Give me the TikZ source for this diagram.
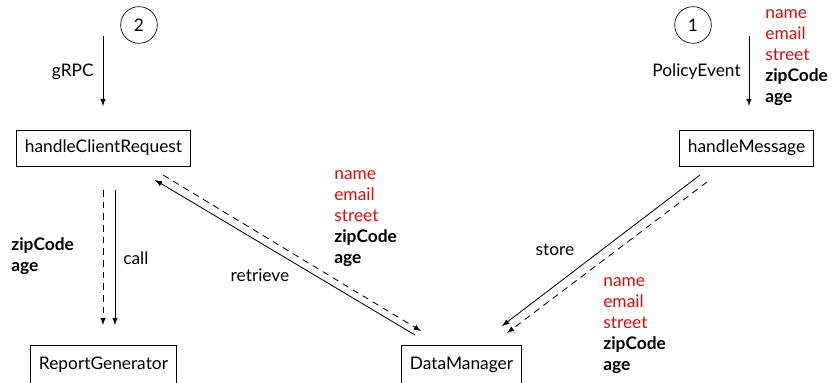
\documentclass[tikz,border=0pt]{standalone}
\usepackage{fontspec}
\setmainfont{Lato}
\usetikzlibrary{arrows}
\definecolor{hidden}{RGB}{222,12,12}
\tikzset{
  box/.style={draw, line width=0.5pt, inner xsep=5.2pt, minimum height=21.6pt, font=\fontsize{10.4}{12}\selectfont},
  tallbox/.style={box, minimum height=24pt},
  num/.style={draw, circle, minimum size=22pt, inner sep=0pt, font=\fontsize{10.4}{12}\selectfont},
  lbl/.style={inner sep=0pt, font=\fontsize{10.4}{12}\selectfont},
  fields/.style={inner sep=0pt, align=left, font=\fontsize{10.4}{12.6}\selectfont},
  flow/.style={-latex, line width=0.5pt},
  reply/.style={-latex, line width=0.5pt, dashed, dash pattern=on 4pt off 3pt},
}
\newcommand{\hid}[1]{\textcolor{hidden}{#1}}
\newcommand{\fieldlist}{\hid{name}\\\hid{email}\\\hid{street}\\\textbf{zipCode}\\\textbf{age}}
\begin{document}
\begin{tikzpicture}[x=0.6pt, y=-0.6pt]
  \useasboundingbox (0,0) rectangle (835,383);
  \clip (0,0) rectangle (835,383);

  % entry points
  \node[num] (c2) at (139,25) {2};
  \node[num] (c1) at (693,25) {1};

  % components
  \node[box] (hcr) at (103.5,148) {handleClientRequest};
  \node[box] (hm)  at (746.5,148) {handleMessage};
  \node[tallbox] (rg)  at (103.5,365) {ReportGenerator};
  \node[tallbox] (dm)  at (461.5,365) {DataManager};

  % incoming requests
  \coordinate (g0) at (103,36);
  \coordinate (p0) at (749,36);
  \coordinate (g1) at (103,106);
  \coordinate (p1) at (749,106);
  \draw[flow] (g0) -- (g1);
  \draw[flow] (p0) -- (p1);
  \node[lbl, anchor=east] (lgrpc) at (94,72) {gRPC};
  \node[lbl, anchor=east] (lpol) at (741,72) {PolicyEvent};
  \node[fields, anchor=west] (f1) at (765,58) {\fieldlist};

  % call to the report generator and its answer
  \coordinate (cs0) at (115,190);
  \coordinate (cs1) at (115,325);
  \coordinate (cd0) at (103,190);
  \coordinate (cd1) at (103,325);
  \draw[flow] (cs0) -- (cs1);
  \draw[reply] (cd0) -- (cd1);
  \node[lbl, anchor=west] (lcall) at (123,258) {call};
  \node[fields, anchor=west] (f2) at (11,256) {\textbf{zipCode}\\\textbf{age}};

  % retrieve from the data manager
  \coordinate (rs0) at (415,335);
  \coordinate (rs1) at (155,180);
  \coordinate (rd0) at (163,175);
  \coordinate (rd1) at (421,331);
  \draw[flow] (rs0) -- (rs1);
  \draw[reply] (rd0) -- (rd1);
  \node[lbl] (lret) at (260,275) {retrieve};
  \node[fields, anchor=west] (f3) at (334,219) {\fieldlist};

  % store into the data manager
  \coordinate (ss0) at (700,175);
  \coordinate (ss1) at (502,326);
  \coordinate (sd0) at (707,182);
  \coordinate (sd1) at (507,333);
  \draw[flow] (ss0) -- (ss1);
  \draw[reply] (sd0) -- (sd1);
  \node[lbl] (lsto) at (555,250) {store};
  \node[fields, anchor=west] (f4) at (603,326) {\fieldlist};
\end{tikzpicture}
\end{document}
